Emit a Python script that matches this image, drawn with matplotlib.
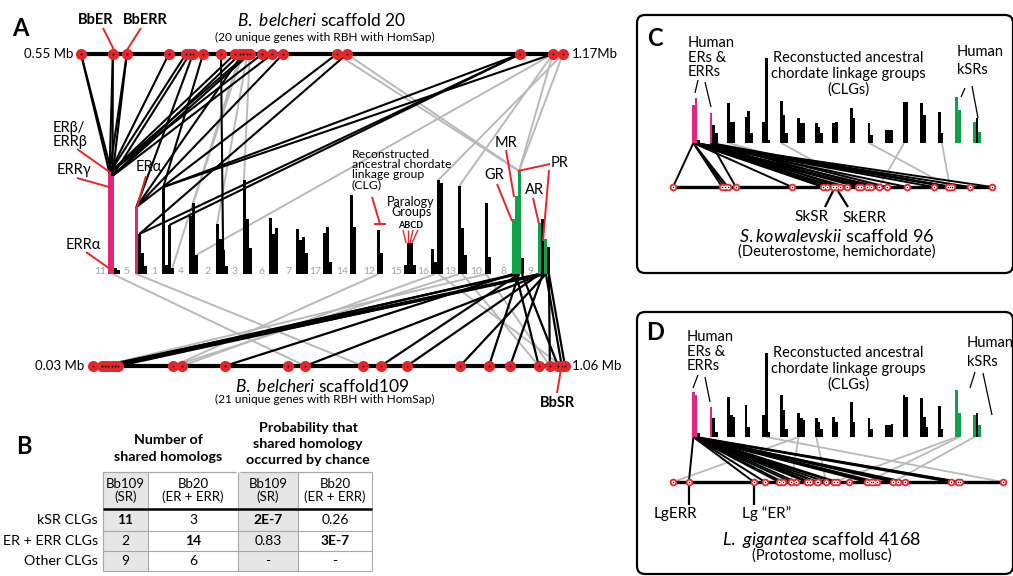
import matplotlib
matplotlib.use("Agg")
import matplotlib.pyplot as plt
from matplotlib.patches import FancyBboxPatch, Rectangle

plt.rcParams["font.family"] = ["Lato", "DejaVu Sans"]
plt.rcParams["mathtext.fontset"] = "custom"
plt.rcParams["mathtext.rm"] = "Lato"
plt.rcParams["mathtext.it"] = "Lato:italic"
plt.rcParams["mathtext.bf"] = "Lato:bold"

# ======================= DATA =======================
# ---- Panel A : B. belcheri scaffolds ----
top_scaffold_range_mb = [0.55, 1.17]
top_genes_mb = [0.550, 0.591, 0.609, 0.663, 0.685, 0.690, 0.694, 0.707, 0.730, 0.748, 0.755,
                0.758, 0.764, 0.767, 0.783, 0.796, 0.810, 0.879, 0.892, 1.115, 1.157, 1.170]
bottom_scaffold_range_mb = [0.03, 1.06]
bottom_genes_mb = [0.030, 0.050, 0.056, 0.063, 0.071, 0.077, 0.085, 0.205, 0.224, 0.318, 0.456,
                   0.493, 0.619, 0.658, 0.715, 0.831, 0.894, 0.940, 1.003, 1.027, 1.045, 1.053, 1.060]

clg_names = ["11", "5", "1", "4", "2", "3", "6", "7", "17", "14", "12", "15", "16", "13", "10", "8", "9"]
clg_hist = {
    "11": [101, 98, 6, 4], "5": [67, 40, 21, 8], "1": [87, 9, 49, 6], "4": [58, 71, 19],
    "2": [50, 35, 24, 8], "3": [94, 55, 26], "6": [56, 40, 46], "7": [45, 34, 37, 21],
    "17": [41, 47, 12], "14": [79, 47], "12": [44, 21], "15": [9, 31, 31, 9],
    "16": [25, 12, 94, 91], "13": [88, 46, 19], "10": [71, 17], "8": [55, 78, 103, 16],
    "9": [51, 55, 35, 27],
}
# gene family of each bar: E = ER/ERR, S = kSR, o = other
clg_family = {"11": "EEoo", "5": "Eooo", "8": "SSSo", "9": "SoSo"}

# links top scaffold gene -> (CLG, bar)
top_links_shared = [(0, "11", 0), (0, "11", 1), (1, "11", 0), (1, "11", 1), (2, "11", 0), (2, "11", 1),
                    (3, "11", 0), (4, "11", 0), (5, "11", 1), (6, "5", 0), (7, "1", 0), (8, "2", 2),
                    (9, "11", 0), (10, "11", 1), (11, "5", 0), (12, "11", 0), (13, "11", 1),
                    (14, "11", 0), (15, "11", 1), (16, "5", 0), (17, "5", 0), (18, "5", 1),
                    (19, "1", 0), (19, "5", 1), (19, "1", 2), (20, "1", 0)]
top_links_other = [(10, "1", 3), (11, "4", 1), (12, "2", 0), (13, "3", 0), (17, "8", 2), (18, "8", 2),
                   (20, "8", 2), (21, "8", 2), (20, "4", 2), (21, "16", 2), (20, "13", 0)]
# links (CLG, bar) -> bottom scaffold gene
bottom_links_shared = [("9", 0, 1), ("9", 1, 2), ("8", 2, 3), ("9", 2, 4), ("8", 1, 5), ("9", 0, 6),
                       ("8", 0, 9), ("9", 1, 11), ("8", 2, 13), ("9", 0, 14), ("9", 2, 15), ("8", 2, 16),
                       ("9", 1, 17), ("8", 1, 18), ("9", 3, 19), ("8", 3, 20), ("9", 2, 21), ("9", 3, 22)]
bottom_links_other = [("11", 1, 11), ("5", 0, 12), ("12", 0, 7), ("16", 1, 8), ("13", 1, 18),
                      ("10", 0, 19), ("16", 2, 21), ("10", 0, 1), ("13", 0, 7)]

# ---- Panel B : table ----
table_col_headers = [("Bb109", "(SR)"), ("Bb20", "(ER + ERR)"), ("Bb109", "(SR)"), ("Bb20", "(ER + ERR)")]
table_row_labels = ["kSR CLGs", "ER + ERR CLGs", "Other CLGs"]
shared_homologs = [["11", "3"], ["2", "14"], ["9", "6"]]
chance_probability = [["2E-7", "0.26"], ["0.83", "3E-7"], ["-", "-"]]
bold_cells = [(0, 0), (1, 1)]

# ---- Panels C / D : human CLG histograms (17 groups) ----
hist_C = [[38, 45, 3], [30, 18, 10], [40, 21, 21], [26, 32, 10], [21, 85, 3], [42, 28, 10],
          [25, 20, 20], [20, 16, 10], [20, 21], [35, 25], [20, 8], [13, 13, 13], [41, 41],
          [40, 28], [31, 10], [46, 33], [21, 25, 11]]
hist_D = [[45, 42, 4], [30, 19, 5], [40, 22, 20], [32, 10], [22, 84, 5], [42, 27, 8],
          [24, 19, 17], [19, 15, 8], [20, 15], [35, 15], [19, 8], [12, 12, 13], [42, 40],
          [39, 20, 10], [31, 8], [47, 24], [22, 24, 12]]
group_family = {0: "EEo", 1: "Eoo", 15: "SS", 16: "SoS"}

# gene positions as fraction of scaffold length
genes_C = [0.000, 0.154, 0.163, 0.172, 0.197, 0.373, 0.470, 0.483, 0.502, 0.511, 0.524, 0.545, 0.580,
           0.589, 0.608, 0.621, 0.646, 0.671, 0.734, 0.818, 0.862, 0.868, 0.875, 0.931, 1.000]
genes_D = [0.000, 0.048, 0.245, 0.279, 0.321, 0.333, 0.358, 0.373, 0.406, 0.415, 0.436, 0.439, 0.464,
           0.488, 0.497, 0.533, 0.588, 0.600, 0.606, 0.618, 0.667, 0.682, 0.703, 0.842, 0.864, 0.870, 1.000]
links_C_shared = [(0, 0, g) for g in [0, 1, 2, 3, 5, 6, 7, 8, 11, 12, 14, 16, 19, 20, 22, 23, 24]] + \
                 [(0, 1, g) for g in [9, 13, 18]] + [(1, 0, g) for g in [4, 10, 15, 17, 21]]
links_C_other = [(2, 0, 17), (5, 0, 13), (12, 0, 16), (10, 0, 21), (14, 1, 21)]
links_D_shared = [(0, 0, g) for g in [1, 2, 3, 4, 5, 6, 8, 10, 12, 13, 16, 18, 20, 22, 23, 24]] + \
                 [(0, 1, g) for g in [7, 9, 11, 14, 17, 19, 21, 25]]
links_D_other = [(6, 0, 0), (6, 0, 6), (7, 0, 12), (4, 1, 26), (15, 0, 13), (15, 1, 16), (16, 0, 20)]

# ======================= STYLE =======================
RED = "#e8262a"
MAG = "#e2277b"
GRN = "#11a14b"
LINK_GRAY = "#b9b9b9"
NUM_GRAY = "#a3a3a3"
FAM_COLOR = {"E": MAG, "S": GRN, "o": "black"}

fig = plt.figure(figsize=(10.13, 5.76), dpi=100)
ax = fig.add_axes([0, 0, 1, 1])
ax.set_xlim(0, 1013)
ax.set_ylim(576, 0)
ax.axis("off")


def seg(p, q, color="black", lw=1.1, z=2):
    ax.plot([p[0], q[0]], [p[1], q[1]], color=color, lw=lw, solid_capstyle="butt", zorder=z)


def txt(x, y, s, size=10, ha="center", va="center", **kw):
    ax.text(x, y, s, fontsize=size, ha=ha, va=va, **kw)


def hist(x0, base, heights, fam, w):
    xs = [x0 + w * (i + 0.5) for i in range(len(heights))]
    cols = [FAM_COLOR[fam[i]] if i < len(fam) else "black" for i in range(len(heights))]
    ax.bar(xs, heights, width=w, bottom=[base - h for h in heights], color=cols, linewidth=0, zorder=3)
    return xs


def dots(xs, y, big=True):
    if big:
        ax.scatter(xs, [y] * len(xs), s=64, color=RED, zorder=5, linewidths=0)
        ax.scatter(xs, [y] * len(xs), s=2, color="black", zorder=6, linewidths=0)
    else:
        ax.scatter(xs, [y] * len(xs), s=30, color=RED, zorder=5, linewidths=0)
        ax.scatter(xs, [y] * len(xs), s=8, color="white", zorder=6, linewidths=0)
        ax.scatter(xs, [y] * len(xs), s=1.0, color="black", zorder=7, linewidths=0)


# ======================= PANEL A =======================
TOP_Y, TOP_X0, TOP_X1 = 54, 81, 563
BOT_Y, BOT_X0, BOT_X1 = 366, 93, 565
BASE_A = 274


def top_x(mb):
    a, b = top_scaffold_range_mb
    return TOP_X0 + (mb - a) / (b - a) * (TOP_X1 - TOP_X0)


def bot_x(mb):
    a, b = bottom_scaffold_range_mb
    return BOT_X0 + (mb - a) / (b - a) * (BOT_X1 - BOT_X0)


tx = [top_x(m) for m in top_genes_mb]
bx = [bot_x(m) for m in bottom_genes_mb]

bar_pos = {}
for i, name in enumerate(clg_names):
    lx = 100 + 26.9 * i
    txt(lx, 271, name, size=7.5, color=NUM_GRAY)
    xs = hist(lx + 8, BASE_A, clg_hist[name], clg_family.get(name, ""), 3.0)
    bar_pos[name] = xs

for g, c, b in top_links_other:
    seg((tx[g], TOP_Y), (bar_pos[c][b], BASE_A - clg_hist[c][b]), LINK_GRAY, 1.4, 1)
for g, c, b in top_links_shared:
    seg((tx[g], TOP_Y), (bar_pos[c][b], BASE_A - clg_hist[c][b]), "black", 1.5, 2)
for c, b, g in bottom_links_other:
    seg((bar_pos[c][b], BASE_A), (bx[g], BOT_Y), LINK_GRAY, 1.4, 1)
for c, b, g in bottom_links_shared:
    seg((bar_pos[c][b], BASE_A), (bx[g], BOT_Y), "black", 1.6, 2)

seg((TOP_X0, TOP_Y), (TOP_X1, TOP_Y), "black", 3.0, 4)
seg((BOT_X0, BOT_Y), (BOT_X1, BOT_Y), "black", 3.0, 4)
dots(tx, TOP_Y)
dots(bx, BOT_Y)

txt(20, 28, "A", size=17, weight="bold")
txt(96, 20, "BbER", size=10.5, weight="bold")
txt(145, 20, "BbERR", size=10.5, weight="bold")
seg((103, 28), (114, 50), RED, 1.4, 3)
seg((141, 28), (127, 50), RED, 1.4, 3)
txt(322, 20, r"$\mathit{B.\ belcheri}$ scaffold 20", size=12.5)
txt(325, 37, "(20 unique genes with RBH with HomSap)", size=8.6)
txt(73, TOP_Y, "0.55 Mb", size=9.5, ha="right")
txt(572, TOP_Y, "1.17Mb", size=9.5, ha="left")
txt(84, BOT_Y, "0.03 Mb", size=9.5, ha="right")
txt(572, BOT_Y, "1.06 Mb", size=9.5, ha="left")
txt(322, 386, r"$\mathit{B.\ belcheri}$ scaffold109", size=12.5)
txt(325, 399, "(21 unique genes with RBH with HomSap)", size=8.6)
txt(557, 403, "BbSR", size=10.5, weight="bold")
seg((561, 369), (557, 393), RED, 1.4, 6)

txt(53, 128, "ERβ/", size=10.5, ha="left")
txt(53, 142, "ERRβ", size=10.5, ha="left")
seg((77, 149), (111, 173), RED, 1.4, 4)
txt(57, 170, "ERRγ", size=10.5, ha="left")
seg((77, 178), (109, 187), RED, 1.4, 4)
txt(136, 167, "ERα", size=10.5, ha="left")
seg((146, 176), (137, 207), RED, 1.4, 4)
txt(66, 245, "ERRα", size=10.5, ha="left")
seg((86, 252), (113, 271), RED, 1.4, 4)

for y, s in zip([154, 164, 174, 185], ["Reconstructed", "ancestral chordate", "linkage group", "(CLG)"]):
    txt(352, y, s, size=8.8, ha="left")
seg((372, 197), (380, 224), RED, 1.4, 4)
seg((374, 224), (386, 224), RED, 1.4, 4)
txt(411, 202, "Paralogy", size=9)
txt(411, 212, "Groups", size=9)
txt(411, 226, "ABCD", size=6.5, weight="bold")
for x0, x1 in [(403, 406), (408, 408), (413, 410), (418, 412)]:
    seg((x0, 230), (x1, 243), RED, 1.0, 4)
txt(494, 175, "GR", size=10.5)
seg((497, 184), (512, 221), RED, 1.4, 4)
txt(506, 143, "MR", size=10.5)
seg((506, 150), (514, 197), RED, 1.4, 4)
txt(560, 163, "PR", size=10.5)
seg((550, 164), (518, 171), RED, 1.4, 4)
seg((549, 170), (543, 241), RED, 1.4, 4)
txt(534, 190, "AR", size=10.5)
seg((533, 198), (539, 224), RED, 1.4, 4)

# ======================= PANEL B =======================
txt(24, 447, "B", size=17, weight="bold")
txt(168, 440, "Number of", size=10.3, weight="bold")
txt(168, 457, "shared homologs", size=10.3, weight="bold")
txt(308, 428, "Probability that", size=10.3, weight="bold")
txt(308, 444, "shared homology", size=10.3, weight="bold")
txt(308, 460, "occurred by chance", size=10.3, weight="bold")

col_x = [103, 148, 238, 298, 372]
row_y = [472, 509, 531, 551, 571]
TABLE_GRAY = "#e6e6e6"
LINE_GRAY = "#a8a8a8"
for ci in (0, 2):
    ax.add_patch(Rectangle((col_x[ci], row_y[0]), col_x[ci + 1] - col_x[ci], row_y[-1] - row_y[0],
                           facecolor=TABLE_GRAY, edgecolor="none", zorder=1))
for x in col_x:
    seg((x, row_y[0]), (x, row_y[-1]), LINE_GRAY, 0.8, 2)
seg((col_x[0], row_y[0]), (236, row_y[0]), LINE_GRAY, 0.9, 2)
seg((240, row_y[0]), (col_x[-1], row_y[0]), LINE_GRAY, 0.9, 2)
for y in row_y[2:]:
    seg((col_x[0], y), (col_x[-1], y), LINE_GRAY, 0.8, 2)
seg((col_x[0], row_y[1]), (col_x[-1], row_y[1]), "black", 1.8, 3)

for ci, (h1, h2) in enumerate(table_col_headers):
    cx = (col_x[ci] + col_x[ci + 1]) / 2
    txt(cx, 484, h1, size=9.5)
    txt(cx, 497, h2, size=9.5)
for ri, lab in enumerate(table_row_labels):
    cy = (row_y[ri + 1] + row_y[ri + 2]) / 2
    txt(98, cy, lab, size=10.3, ha="right")
    for cj in range(2):
        w = "bold" if (ri, cj) in bold_cells else "normal"
        txt((col_x[cj] + col_x[cj + 1]) / 2, cy, shared_homologs[ri][cj], size=10, weight=w)
        txt((col_x[cj + 2] + col_x[cj + 3]) / 2, cy, chance_probability[ri][cj], size=10, weight=w)


# ======================= PANELS C / D =======================
def panel(top, height, base, scaf_y, scaf_x1, heights, genes, shared, other):
    ax.add_patch(FancyBboxPatch((637, top), 376, height,
                                boxstyle="round,pad=0,rounding_size=8", facecolor="none",
                                edgecolor="black", lw=1.6, zorder=1))
    pos = []
    for gi, h in enumerate(heights):
        pos.append(hist(692 + 17.56 * gi, base, h, group_family.get(gi, ""), 2.7))
    gx = [673 + f * (scaf_x1 - 673) for f in genes]
    for g, b, d in other:
        seg((pos[g][b], base), (gx[d], scaf_y), LINK_GRAY, 1.3, 1)
    for g, b, d in shared:
        seg((pos[g][b], base), (gx[d], scaf_y), "black", 1.4, 2)
    seg((673, scaf_y), (scaf_x1, scaf_y), "black", 2.4, 4)
    dots(gx, scaf_y, big=False)
    return gx


gxC = panel(15, 258, 143, 187, 992, hist_C, genes_C, links_C_shared, links_C_other)
txt(655, 39, "C", size=17, weight="bold")
for y, s in zip([43, 58, 72], ["Human", "ERs &", "ERRs"]):
    txt(688, y, s, size=10.5, ha="left")
seg((698, 80), (695, 93), "black", 0.9)
seg((705, 82), (711, 107), "black", 0.9)
for y, s in zip([58, 74, 90], ["Reconstucted ancestral", "chordate linkage groups", "(CLGs)"]):
    txt(848, y, s, size=10.5)
txt(957, 52, "Human", size=10.5, ha="left")
txt(957, 70, "kSRs", size=10.5, ha="left")
seg((965, 88), (961, 97), "black", 0.9)
seg((972, 86), (978, 118), "black", 0.9)
seg((833, 191), (825, 207), "black", 1.6, 4)
seg((838, 191), (848, 207), "black", 1.6, 4)
txt(812, 217, "SkSR", size=11)
txt(864, 218, "SkERR", size=11)
txt(837, 237, r"$\mathit{S.kowalevskii}$ scaffold 96", size=13)
txt(837, 252, "(Deuterostome, hemichordate)", size=10.5)

gxD = panel(312, 262, 437, 482, 1003, hist_D, genes_D, links_D_shared, links_D_other)
txt(655, 332, "D", size=17, weight="bold")
for y, s in zip([337, 352, 366], ["Human", "ERs &", "ERRs"]):
    txt(687, y, s, size=10.5, ha="left")
seg((698, 375), (693, 388), "black", 0.9)
seg((705, 377), (710, 402), "black", 0.9)
for y, s in zip([353, 369, 385], ["Reconstucted ancestral", "chordate linkage groups", "(CLGs)"]):
    txt(848, y, s, size=10.5)
txt(967, 343, "Human", size=10.5, ha="left")
txt(967, 362, "kSRs", size=10.5, ha="left")
seg((975, 372), (970, 388), "black", 0.9)
seg((983, 373), (992, 415), "black", 0.9)
seg((gxD[1], 486), (gxD[1], 505), "black", 1.6, 4)
seg((gxD[2], 486), (gxD[2], 505), "black", 1.6, 4)
txt(675, 514, "LgERR", size=11)
txt(767, 514, "Lg “ER”", size=11)
txt(822, 540, r"$\mathit{L.\ gigantea}$ scaffold 4168", size=13)
txt(822, 556, "(Protostome, mollusc)", size=10.5)

fig.savefig("out.png", dpi=100)
